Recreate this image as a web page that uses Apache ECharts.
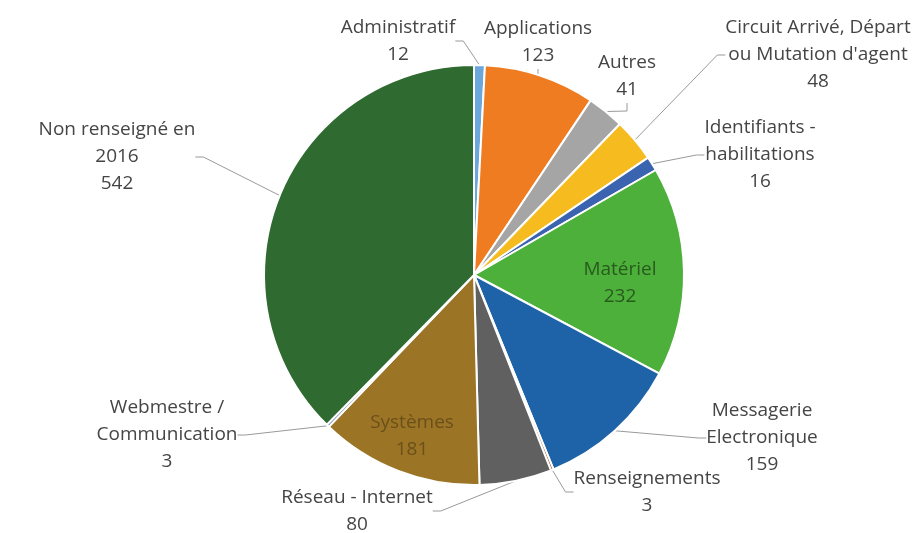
<!DOCTYPE html>
<html>
<head>
<meta charset="utf-8">
<script src="https://cdn.jsdelivr.net/npm/echarts@6/dist/echarts.min.js"></script>
<style>html,body{margin:0;padding:0;background:#fff}#c{width:922px;height:533px}</style>
</head>
<body>
<div id="c"></div>
<script>
const categories = [
  "Administratif",
  "Applications",
  "Autres",
  "Circuit Arrivé, Départ\nou Mutation d'agent",
  "Identifiants -\nhabilitations",
  "Matériel",
  "Messagerie\nElectronique",
  "Renseignements",
  "Réseau - Internet",
  "Systèmes",
  "Webmestre /\nCommunication",
  "Non renseigné en\n2016"
];
const values = [12, 123, 41, 48, 16, 232, 159, 3, 80, 181, 3, 542];
const colors = ["#6ca7dc", "#f07c22", "#a5a5a5", "#f6bb1f", "#3a64b0", "#4db03a",
                "#1e62a8", "#9e480e", "#606060", "#9c7426", "#264478", "#2f6a30"];
// label centres (layout only)
const labelPos = [
  [398, 41], [538, 42], [627, 76], [818, 55], [760, 155], [620, 283],
  [762, 438], [647, 492], [357, 511], [412, 436], [167, 435], [117, 157]
];
const insideIdx = [5, 9];
const insideColors = {5: "#285a1e", 9: "#6a5019"};

const chart = echarts.init(document.getElementById('c'));
chart.setOption({
  animation: false,
  series: [{
    type: 'pie',
    center: [474, 275],
    radius: 210,
    startAngle: 90,
    clockwise: true,
    itemStyle: {borderColor: '#fff', borderWidth: 2},
    label: {
      show: true,
      formatter: '{b}\n{c}',
      fontFamily: 'Open Sans',
      fontSize: 19,
      lineHeight: 27,
      color: '#454545',
      align: 'center'
    },
    labelLine: {show: true, length: 8, length2: 8, smooth: false,
      lineStyle: {color: '#999999', width: 1}},
    labelLayout: function (p) {
      const pos = labelPos[p.dataIndex];
      return {x: pos[0], y: pos[1], align: 'center', verticalAlign: 'middle'};
    },
    emphasis: {disabled: true},
    data: categories.map((n, i) => {
      const d = {name: n, value: values[i], itemStyle: {color: colors[i]}};
      if (insideIdx.includes(i)) {
        d.label = {color: insideColors[i]};
        d.labelLine = {show: false};
      }
      return d;
    })
  }]
});
</script>
</body>
</html>
